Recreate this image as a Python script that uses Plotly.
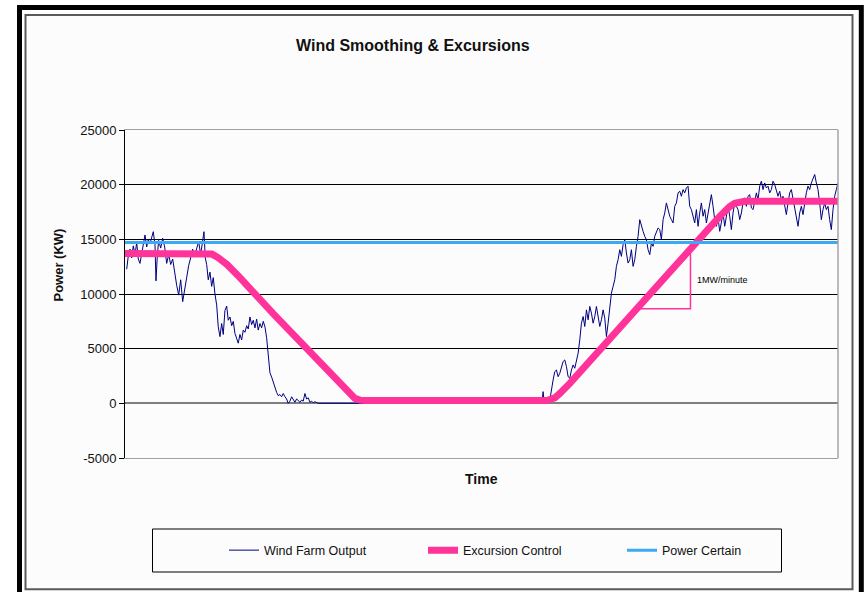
import plotly.graph_objects as go

# ---------------- data ----------------
# Wind farm output, part 1 (minutes, kW) : plateau, fall to zero
wind_t1 = [0.17, 0.33, 0.50, 0.67, 0.83, 1.00, 1.17, 1.33, 1.50, 1.67, 1.83, 2.00, 2.17, 2.33, 2.50,
           2.67, 2.83, 3.00, 3.10, 3.23, 3.37, 3.57, 3.77, 3.97, 4.17, 4.37, 4.57, 4.77, 4.97, 5.17,
           5.37, 5.57, 5.77, 5.97, 6.17, 6.37, 6.57, 6.77, 6.97, 7.17, 7.37, 7.57, 7.77, 7.90, 8.03,
           8.17, 8.33, 8.50, 8.67, 8.83, 9.00, 9.17, 9.33, 9.50, 9.67, 9.83, 10.00, 10.17, 10.33, 10.50,
           10.67, 10.83, 11.00, 11.17, 11.33, 11.50, 11.67, 11.83, 12.00, 12.17, 12.33, 12.50, 12.67,
           12.83, 13.00, 13.17, 13.33, 13.50, 13.67, 13.83, 14.00, 14.17, 14.33, 14.50, 14.67, 14.83,
           15.00, 15.17, 15.33, 15.50, 15.67, 15.83, 16.00, 16.17, 16.33, 16.50, 16.67, 16.83, 17.00,
           17.17, 17.33, 17.50, 17.67, 17.83, 18.00, 18.17, 18.33, 18.50, 18.67, 18.83, 19.00, 19.33,
           30.00, 41.70, 41.83, 41.95, 42.17, 42.50]
wind_p1 = [12270, 13500, 14100, 13300, 14400, 13600, 14700, 13200, 12800, 13800, 14800, 15400, 14300, 15000, 14600,
           15300, 15700, 14500, 11200, 13500, 14900, 14200, 15100, 14300, 12800, 13600, 12700, 13200, 11900, 10800,
           9900, 11300, 9300, 10400, 11800, 12600, 13300, 14100, 13500, 14200, 14800, 13600, 15100, 15700, 13300,
           12700, 11300, 12000, 10700, 11500, 10000, 9000, 7000, 6100, 7300, 6300, 8500, 8900, 7600, 7900,
           7100, 7500, 6400, 6000, 5500, 6300, 5800, 6700, 6500, 7100, 6800, 7900, 7200,
           7600, 6900, 7700, 6700, 7300, 6900, 7500, 7000, 6000, 4300, 2800, 2400, 1900,
           1300, 1000, 700, 800, 600, 900, 600, 400, 0, 200, 600, 300, 100,
           400, 200, 100, 300, 200, 900, 400, 500, 100, 200, 50, 150, 0,
           0, 0, 1070, 0, 0, 300]

# Wind farm output, part 2: sampled every 10 s from 42.83 min
wind2_start = 42.83
wind2_step = 1.0 / 6.0
wind_p2 = [2140, 2900, 3050, 2440, 2750, 3360, 3820, 3970, 3360, 2440, 2290, 3050, 3510, 3210, 3970, 4580,
           5800, 7330, 7940, 7030, 8550, 7640, 8860, 8250, 7330, 7940, 8860, 7940, 7030, 7640, 8550, 7790,
           6110, 7330, 8860, 10080, 10690, 11300, 12530, 13140, 14050, 13440, 14510, 14970, 13750, 12830,
           13140, 14050, 12530, 13140, 14360, 15280, 16800, 16190, 15730, 15280, 14970, 14050, 13600, 14660,
           14360, 15280, 15730, 16040, 15890, 14970, 16800, 17410, 18330, 17720, 17110, 16800, 16500, 18020,
           18330, 19250, 19400, 18940, 19550, 19250, 19700, 19860, 18020, 17720, 16960, 16500, 17720, 16190,
           17410, 18330, 17110, 17720, 16500, 17260, 18020, 19090, 18020, 16800, 16190, 16960, 15730, 16800,
           17410, 16190, 17260, 18020, 17110, 15890, 17410, 18330, 18020, 17720, 16800, 17410, 18330, 18790,
           18020, 18940, 19090, 17870, 17720, 18640, 19250, 18640, 19860, 20320, 19550, 20160, 19700, 19860,
           19250, 19550, 20320, 20010, 19550, 18940, 19400, 18640, 18940, 18020, 17260, 18330, 19250, 19550,
           18790, 18020, 17110, 16190, 17410, 18020, 17260, 18330, 19250, 19860, 19550, 20160, 20620, 20930,
           20160, 19550, 18330, 16800, 17720, 18330, 17720, 18020, 16800, 15890, 17720, 18940, 19550, 20160]
wind_t2 = [round(wind2_start + i * wind2_step, 3) for i in range(len(wind_p2))]

wind_t = wind_t1 + wind_t2
wind_p = wind_p1 + wind_p2

# Excursion control (ramp-limited output)
exc_t = [0, 8.2, 8.7, 9.2, 9.7, 10.2, 10.7, 11.2, 11.5, 14.8, 18.2, 21.5, 22.5, 23.0, 23.5, 24.0,
         42.2, 42.5, 43.0, 43.5, 44.0, 44.5, 59.5, 60.0, 60.5, 61.0, 61.5, 62.0, 71.33]
exc_p = [13700, 13700, 13650, 13400, 13100, 12700, 12250, 11800, 11500, 8220, 4970, 1840, 850, 450, 290, 250,
         250, 300, 500, 900, 1350, 1830, 17100, 17600, 18000, 18300, 18450, 18480, 18480]

# Power certain level
cert_t = [0, 71.33]
cert_p = [14700, 14700]

# Slope marker (1 MW/minute)
slope_t = [51.5, 56.57, 56.57]
slope_p = [8650, 8650, 14400]

y_ticks = [-5000, 0, 5000, 10000, 15000, 20000, 25000]
y_tick_text = ["-5000", "0", "5000", "10000", "15000", "20000", "25000"]

FONT = "Liberation Sans, Arial, sans-serif"

# ---------------- figure ----------------
fig = go.Figure()
fig.add_trace(go.Scatter(x=wind_t, y=wind_p, mode="lines", name="Wind Farm Output",
                         line=dict(color="#000080", width=1)))
fig.add_trace(go.Scatter(x=exc_t, y=exc_p, mode="lines", name="Excursion Control",
                         line=dict(color="#FF3399", width=7)))
fig.add_trace(go.Scatter(x=cert_t, y=cert_p, mode="lines", name="Power Certain",
                         line=dict(color="#3DA9F5", width=3)))
fig.add_trace(go.Scatter(x=slope_t, y=slope_p, mode="lines", showlegend=False,
                         line=dict(color="#FF3399", width=1.5), hoverinfo="skip"))

# plot-area pixel helpers for paper coords (plot area: x 125..838, y 130..458)
def px(x):
    return (x - 125) / 713.0


def py(y):
    return (458 - y) / 328.0


shapes = [
    # outer black frame
    dict(type="rect", xref="paper", yref="paper", x0=px(19.5), x1=px(861.3), y0=py(600), y1=py(7.5),
         line=dict(color="black", width=5), fillcolor="white", layer="below"),
    # inner grey frame
    dict(type="rect", xref="paper", yref="paper", x0=px(25.5), x1=px(852.5), y0=py(589.2), y1=py(15),
         line=dict(color="#5A5A5A", width=2), fillcolor="#FCFCFC", layer="below"),
    # right border of plot area
    dict(type="line", xref="paper", yref="paper", x0=1, x1=1, y0=0, y1=1,
         line=dict(color="#A6A6A6", width=1.5)),
    # legend box
    dict(type="rect", xref="paper", yref="paper", x0=px(152.5), x1=px(781.5), y0=py(572), y1=py(529),
         line=dict(color="black", width=1), fillcolor="rgba(0,0,0,0)"),
]

annotations = [
    dict(text="<b>Wind Smoothing &amp; Excursions</b>", xref="paper", yref="paper", x=px(413), y=py(45),
         showarrow=False, font=dict(family=FONT, size=16, color="#111"), xanchor="center", yanchor="middle"),
    dict(text="<b>Power (KW)</b>", xref="paper", yref="paper", x=px(58), y=py(265.5), textangle=-90,
         showarrow=False, font=dict(family=FONT, size=13, color="#111"), xanchor="center", yanchor="middle"),
    dict(text="<b>Time</b>", xref="paper", yref="paper", x=px(481.5), y=py(479),
         showarrow=False, font=dict(family=FONT, size=14, color="#111"), xanchor="center", yanchor="middle"),
    dict(text="1MW/minute", x=57.0, y=11290, xref="x", yref="y", showarrow=False,
         xanchor="left", yanchor="middle", font=dict(family=FONT, size=9, color="#000")),
]

fig.update_layout(
    width=864, height=592,
    margin=dict(l=125, r=26, t=130, b=134),
    paper_bgcolor="white", plot_bgcolor="#FCFCFC",
    font=dict(family=FONT, color="#111"),
    showlegend=True,
    legend=dict(orientation="h", x=px(224), xanchor="left", y=py(550.5), yanchor="middle",
                bgcolor="rgba(0,0,0,0)", borderwidth=0, font=dict(family=FONT, size=12.5, color="#111"),
                entrywidth=154, entrywidthmode="pixels", itemwidth=30),
    shapes=shapes,
    annotations=annotations,
    hovermode=False,
)
fig.update_xaxes(range=[0, 71.33], showgrid=False, zeroline=False, showticklabels=False, ticks="",
                 showline=True, mirror=True, linecolor="#A0A0A0", linewidth=1)
fig.update_yaxes(range=[-5000, 25000], tickvals=y_ticks, ticktext=y_tick_text,
                 showgrid=True, gridcolor="#000000", gridwidth=1,
                 zeroline=True, zerolinecolor="#7F7F7F", zerolinewidth=2,
                 showline=True, linecolor="black", linewidth=1, ticks="outside", ticklen=5,
                 tickcolor="black", tickfont=dict(family=FONT, size=13, color="#111"))

fig.write_html("out.html", config={"displayModeBar": False},
               post_script="document.body.style.margin='0px';document.body.style.overflow='hidden';")
